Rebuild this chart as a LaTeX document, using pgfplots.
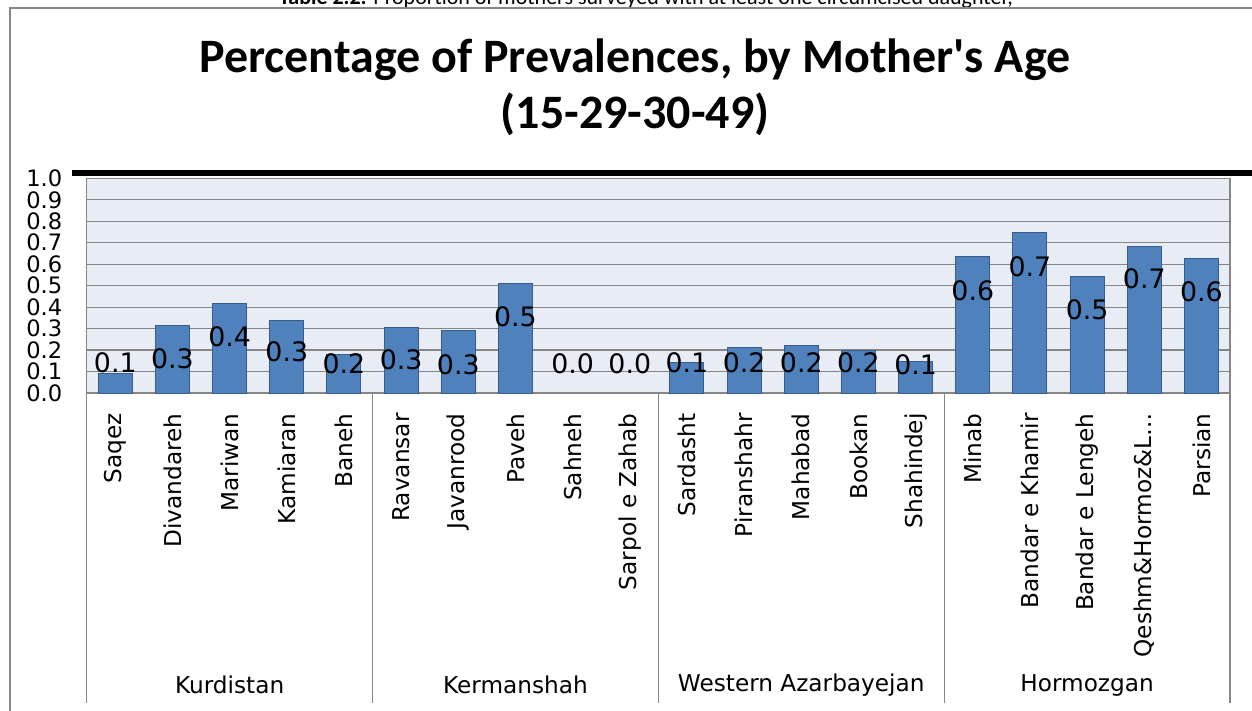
\documentclass[border=0pt]{standalone}
\usepackage{pgfplots}
\pgfplotsset{compat=1.18}
\usepackage{pgfplotstable}
\usepackage{fontspec}
\setmainfont{DejaVu Sans}
\newfontfamily\calfont{Carlito}
\definecolor{barblue}{RGB}{79,129,189}
\definecolor{baredge}{RGB}{56,93,138}
\definecolor{plotbg}{RGB}{232,236,244}
\definecolor{gridc}{RGB}{134,134,134}

\pgfplotstableread{
x v ly
0 0.093 0.140
1 0.316 0.158
2 0.417 0.260
3 0.340 0.190
4 0.180 0.135
5 0.304 0.153
6 0.290 0.132
7 0.510 0.355
8 0.000 0.138
9 0.000 0.138
10 0.143 0.140
11 0.212 0.140
12 0.219 0.140
13 0.197 0.140
14 0.146 0.132
15 0.637 0.476
16 0.746 0.587
17 0.541 0.386
18 0.684 0.533
19 0.625 0.471
}\datatab

\begin{document}
\begin{tikzpicture}
\begin{scope}[x=0.5pt,y=-0.5pt]
\useasboundingbox (0,0) rectangle (1252,711);
\clip (0,0) rectangle (1252,711);
% caption (cut off at top)
\node[anchor=base, inner sep=0pt, font=\calfont\fontsize{11}{13}\selectfont] at (646,5) {\textbf{Table 2.2:} Proportion of mothers surveyed with at least one circumcised daughter,};
% outer frame
\draw[gridc, line width=1pt] (10,730) -- (10,8) -- (1270,8);
% title
\node[anchor=base, inner sep=0pt, font=\calfont\bfseries\fontsize{24}{28}\selectfont] at (635,72.7) {Percentage of Prevalences, by Mother's Age};
\node[anchor=base, inner sep=0pt, font=\calfont\bfseries\fontsize{24}{28}\selectfont] at (635,129) {(15-29-30-49)};
% thick black line
\draw[black, line width=2.8pt] (72,173) -- (1260,173);
\end{scope}

\begin{axis}[
  at={(43.35pt,-196.5pt)}, anchor=south west,
  scale only axis, width=571.65pt, height=107.35pt,
  xmin=-0.5, xmax=19.5, ymin=0, ymax=1,
  clip=false,
  axis background/.style={fill=plotbg},
  axis line style={gridc, line width=0.6pt},
  ymajorgrids, major grid style={gridc, line width=0.6pt},
  major tick length=0pt,
  ytick={0,0.1,0.2,0.3,0.4,0.5,0.6,0.7,0.8,0.9,1},
  yticklabel style={/pgf/number format/fixed, /pgf/number format/fixed zerofill,
    /pgf/number format/precision=1, /pgf/number format/assume math mode=true,
    font=\fontsize{11.3}{11}\selectfont, inner sep=0pt, anchor=east, xshift=-12pt},
  xtick={0,1,2,3,4,5,6,7,8,9,10,11,12,13,14,15,16,17,18,19},
  xticklabels={Saqez,Divandareh,Mariwan,Kamiaran,Baneh,Ravansar,Javanrood,Paveh,Sahneh,Sarpol e Zahab,Sardasht,Piranshahr,Mahabad,Bookan,Shahindej,Minab,Bandar e Khamir,Bandar e Lengeh,{Qeshm\&Hormoz\&L…},Parsian},
  xticklabel style={yshift=-10pt, rotate=90, anchor=east, inner sep=0pt, font=\fontsize{11.6}{12}\selectfont},
]
\addplot[ybar, bar width=17pt, fill=barblue, draw=baredge, line width=0.5pt,
  restrict y to domain=0.001:2] table[x=x, y=v] {\datatab};
\addplot[only marks, mark=none, nodes near coords={\pgfmathprintnumber[fixed,fixed zerofill,precision=1,assume math mode=true]{\pgfplotspointmeta}},
  point meta=\thisrow{v},
  every node near coord/.append style={anchor=center, inner sep=0pt, font=\fontsize{13.4}{15}\selectfont}]
  table[x=x, y=ly] {\datatab};
% group separators and group labels
\draw[gridc, line width=0.6pt] (axis cs:-0.5,0) -- ++(0pt,-155pt);
\draw[gridc, line width=0.6pt] (axis cs:4.5,0) -- ++(0pt,-155pt);
\draw[gridc, line width=0.6pt] (axis cs:9.5,0) -- ++(0pt,-155pt);
\draw[gridc, line width=0.6pt] (axis cs:14.5,0) -- ++(0pt,-155pt);
\draw[gridc, line width=0.6pt] (axis cs:19.5,0) -- ++(0pt,-155pt);
\node[font=\fontsize{11.6}{12}\selectfont] at ([yshift=-146pt]axis cs:2,0) {Kurdistan};
\node[font=\fontsize{11.6}{12}\selectfont] at ([yshift=-146pt]axis cs:7,0) {Kermanshah};
\node[font=\fontsize{11.6}{12}\selectfont] at ([yshift=-146pt]axis cs:12,0) {Western Azarbayejan};
\node[font=\fontsize{11.6}{12}\selectfont] at ([yshift=-146pt]axis cs:17,0) {Hormozgan};
\end{axis}
\end{tikzpicture}
\end{document}
